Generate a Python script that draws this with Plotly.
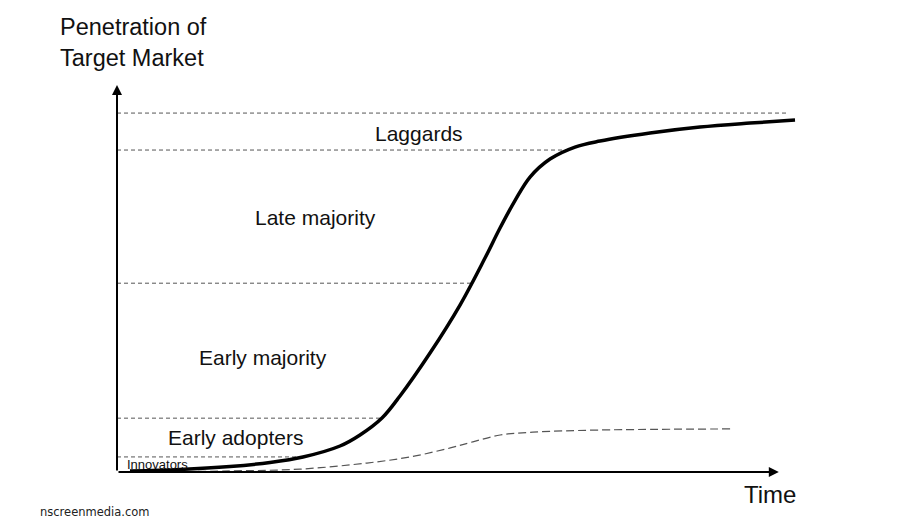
import plotly.graph_objects as go

# S-curve (cumulative adoption), time 0-100, penetration 0-100
curve_t = [1.90, 9.22, 16.54, 22.40, 27.23, 32.65, 35.58, 38.80, 41.43,
           45.83, 50.22, 53.88, 56.08, 58.27, 60.47, 63.40, 67.06, 70.72,
           78.04, 85.36, 92.68, 99.27]
curve_p = [0.28, 0.70, 1.53, 2.65, 4.18, 7.24, 10.31, 15.04, 21.17,
           33.15, 46.52, 59.61, 67.97, 75.60, 82.17, 87.19, 90.53, 92.20,
           94.43, 96.10, 97.21, 98.05]

# lower dashed curve
low_t = [4.8, 16.5, 26.8, 36.6, 42.9, 48.8, 52.1, 56.1, 60.9, 70.7, 90.2]
low_p = [0.0, 0.3, 0.8, 2.5, 4.2, 6.7, 8.4, 10.3, 11.1, 11.7, 12.0]

# segment boundaries and where their dashed lines end
bound_levels = [4.2, 15.0, 52.6, 89.7, 100.0]
bound_ends = [27.5, 38.8, 52.2, 66.5, 98.2]

# segment labels
seg_names = ["Innovators", "Early adopters", "Early majority", "Late majority", "Laggards"]
seg_x = [1.2, 17.3, 21.4, 29.1, 44.2]
seg_y = [2.2, 9.5, 31.8, 71.0, 94.4]
seg_size = [13, 21, 21, 21, 21]

share_labels = ["2.5%", "10%", "40%", "40%", "10%"]
share_y = [1.7, 8.9, 31.8, 71.3, 94.4]

FONT = "Liberation Sans, Arial, sans-serif"

fig = go.Figure()

for lvl, end in zip(bound_levels, bound_ends):
    fig.add_trace(go.Scatter(x=[0, end], y=[lvl, lvl], mode="lines",
                             line=dict(color="#555555", width=1, dash="4px,3px"),
                             hoverinfo="skip", showlegend=False))

fig.add_trace(go.Scatter(x=low_t, y=low_p, mode="lines", line_shape="spline",
                         line=dict(color="#555555", width=1.2, dash="8px,4px"),
                         showlegend=False))

fig.add_trace(go.Scatter(x=curve_t, y=curve_p, mode="lines", line_shape="spline",
                         line=dict(color="black", width=3.5), showlegend=False))

# axes with arrows
fig.add_annotation(x=0, y=107.8, ax=0, ay=0, axref="x", ayref="y", xref="x", yref="y",
                   text="", showarrow=True, arrowhead=2, arrowsize=1, arrowwidth=2,
                   arrowcolor="black")
fig.add_annotation(x=96.9, y=0, ax=0, ay=0, axref="x", ayref="y", xref="x", yref="y",
                   text="", showarrow=True, arrowhead=2, arrowsize=1, arrowwidth=2,
                   arrowcolor="black")

for name, x, y, s in zip(seg_names, seg_x, seg_y, seg_size):
    fig.add_annotation(x=x, y=y, text=name, showarrow=False,
                       xanchor="left" if name == "Innovators" else "center", yanchor="middle",
                       font=dict(family=FONT, size=s, color="#111111"))

for lab, y in zip(share_labels, share_y):
    fig.add_annotation(x=-2.0, y=y, text=lab, showarrow=False, xanchor="right", yanchor="middle",
                       font=dict(family=FONT, size=15, color="#222222"))

fig.add_annotation(xref="paper", yref="paper", x=-0.0864, y=1.145, xanchor="left", yanchor="top",
                   align="left", text="Penetration of<br>Target Market", showarrow=False,
                   font=dict(family=FONT, size=23.5, color="#111111"))
fig.add_annotation(xref="paper", yref="paper", x=0.956, y=-0.057, xanchor="center",
                   yanchor="middle", text="Time", showarrow=False,
                   font=dict(family=FONT, size=24, color="#111111"))
fig.add_annotation(xref="paper", yref="paper", x=-0.1157, y=-0.1, xanchor="left",
                   yanchor="middle", text="nscreenmedia.com", showarrow=False,
                   font=dict(family="DejaVu Sans, sans-serif", size=11.5, color="#222222"))

fig.update_xaxes(range=[0, 100], visible=False, fixedrange=True)
fig.update_yaxes(range=[0, 112], visible=False, fixedrange=True)
fig.update_layout(width=908, height=520, margin=dict(l=117, r=108, t=70, b=48),
                  plot_bgcolor="white", paper_bgcolor="white", showlegend=False)

fig.write_html("out.html")
